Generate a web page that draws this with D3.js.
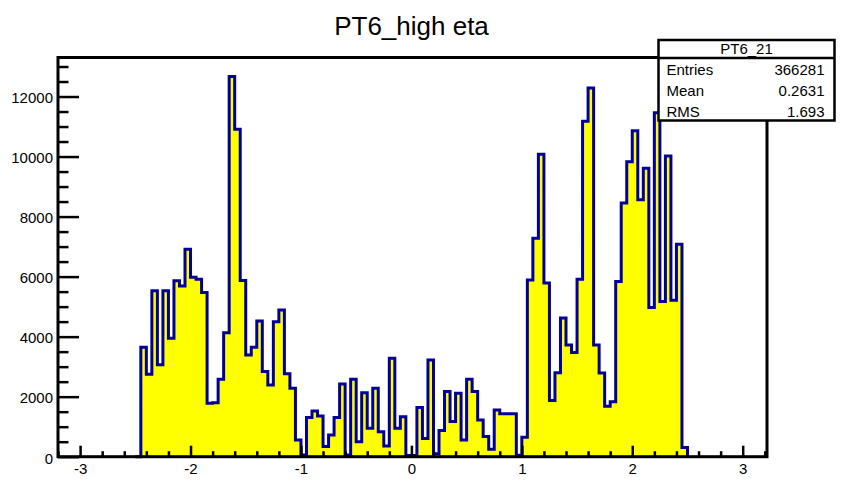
<!DOCTYPE html>
<html>
<head>
<meta charset="utf-8">
<script src="https://cdn.jsdelivr.net/npm/d3@7"></script>
<style>
  body { margin: 0; background: #fff; }
  svg { display: block; }
  text { font-family: "Liberation Sans", Arial, Helvetica, sans-serif; fill: #000; }
</style>
</head>
<body>
<svg id="chart" width="849" height="485"></svg>
<script>
// ---- histogram data: 100 bins of width 0.05 starting at eta = -2.5 ----
const histTitle = "PT6_high eta";
const binLow = -2.5;
const binWidth = 0.05;
const binCounts = [
     0, 3650, 2750, 5530, 3060, 5530, 3950, 5860, 5690, 6910,
  5980, 5910, 5470, 1780, 1800, 2580, 4130,12670,10910, 5870,
  3390, 3650, 4520, 2840, 2390, 4500, 4890, 2760, 2280,  560,
    60, 1310, 1520, 1360,  340,  720, 1310, 2420,   60, 2580,
   500, 2130,  950, 2280,  830,  360, 3280,  950, 1330,   40,
    40, 1640,  610, 3220,  100,  870, 2170, 1170, 2110,  560,
  2580, 2170, 1220,  670,  250, 1560, 1430, 1430, 1430,   50,
   650, 5890, 7280,10080, 5790, 1870, 2800, 4620, 3720, 3470,
  5910,11180,12280, 3720, 2790, 1680, 1830, 5840, 8450, 9830,
 10860, 8560, 9610, 4970,11460, 5170,10020, 5210, 7080,  310
];

// ---- axis tick labels ----
const xTickValues = [-3, -2, -1, 0, 1, 2, 3];
const yTickValues = [0, 2000, 4000, 6000, 8000, 10000, 12000];

// ---- statistics box ----
const statsName = "PT6_21";
const statsLabels = ["Entries", "Mean", "RMS"];
const statsValues = ["366281", "0.2631", "1.693"];

// ---- layout ----
const frame = { left: 58, right: 767, top: 57.5, bottom: 456.7 };
const svg = d3.select("#chart");

const x = d3.scaleLinear().domain([-3.2, 3.22]).range([frame.left, frame.right]);
const y = d3.scaleLinear().domain([0, 13300]).range([frame.bottom, frame.top]);

// title
svg.append("text")
  .attr("x", 411.5).attr("y", 35)
  .attr("text-anchor", "middle")
  .style("font-size", "26px")
  .text(histTitle);

// step outline points: rise at first edge, one point per bin, drop at last edge
const edges = d3.range(binCounts.length + 1).map(i => binLow + i * binWidth);
const pts = [[edges[0], 0]]
  .concat(binCounts.map((v, i) => [edges[i], v]))
  .concat([[edges[edges.length - 1], 0]]);

const area = d3.area()
  .curve(d3.curveStepAfter)
  .x(d => x(d[0]))
  .y0(y(0))
  .y1(d => y(d[1]));
const line = d3.line()
  .curve(d3.curveStepAfter)
  .x(d => x(d[0]))
  .y(d => y(d[1]));

svg.append("path").attr("d", area(pts)).attr("fill", "#ffff00");
svg.append("path").attr("d", line(pts))
  .attr("fill", "none").attr("stroke", "#000099")
  .attr("stroke-width", 3).attr("stroke-linejoin", "miter");

// axes: ticks point into the frame
const gx = svg.append("g").attr("transform", `translate(0,${frame.bottom})`);
const xMinor = d3.range(-3.2, 3.21, 0.2).map(v => Math.round(v * 10) / 10)
  .filter(v => !xTickValues.includes(v));
gx.call(d3.axisBottom(x).tickValues(xMinor).tickSize(-5.5).tickFormat(""));
gx.call(g => g.selectAll(".domain").remove());
const gx2 = svg.append("g").attr("transform", `translate(0,${frame.bottom})`);
gx2.call(d3.axisBottom(x).tickValues(xTickValues).tickSize(-11).tickPadding(7)
  .tickFormat(d3.format("d")));
gx2.select(".domain").remove();
gx2.selectAll("text").style("font-size", "15px").text(d => d < 0 ? "-" + Math.abs(d) : d);

const gy = svg.append("g").attr("transform", `translate(${frame.left},0)`);
const yMinor = d3.range(500, 13300, 500).filter(v => v % 2000 !== 0);
gy.call(d3.axisLeft(y).tickValues(yMinor).tickSize(-10.5).tickFormat(""));
gy.select(".domain").remove();
const gy2 = svg.append("g").attr("transform", `translate(${frame.left},0)`);
gy2.call(d3.axisLeft(y).tickValues(yTickValues).tickSize(-21).tickPadding(5)
  .tickFormat(d3.format("d")));
gy2.select(".domain").remove();
gy2.selectAll("text").style("font-size", "15px").attr("dy", "0.42em");

svg.selectAll(".tick line").attr("stroke", "#000").attr("stroke-width", 2.5);

// frame
svg.append("rect")
  .attr("x", frame.left).attr("y", frame.top)
  .attr("width", frame.right - frame.left).attr("height", frame.bottom - frame.top)
  .attr("fill", "none").attr("stroke", "#000").attr("stroke-width", 3);

// statistics box
const box = { x: 658.5, y: 40, w: 176, h: 80.5, head: 18 };
const sb = svg.append("g");
sb.append("rect")
  .attr("x", box.x).attr("y", box.y).attr("width", box.w).attr("height", box.h)
  .attr("fill", "#fff").attr("stroke", "#000").attr("stroke-width", 2.5);
sb.append("line")
  .attr("x1", box.x).attr("x2", box.x + box.w)
  .attr("y1", box.y + box.head).attr("y2", box.y + box.head)
  .attr("stroke", "#000").attr("stroke-width", 2.5);
sb.append("text")
  .attr("x", box.x + box.w / 2).attr("y", box.y + 14)
  .attr("text-anchor", "middle").style("font-size", "15px")
  .text(statsName);
const rowBase = [74.5, 95.5, 116.5];
statsLabels.forEach((lab, i) => {
  sb.append("text").attr("x", box.x + 8).attr("y", rowBase[i])
    .style("font-size", "15px").text(lab);
  sb.append("text").attr("x", box.x + box.w - 10).attr("y", rowBase[i])
    .attr("text-anchor", "end").style("font-size", "15px").text(statsValues[i]);
});
</script>
</body>
</html>
